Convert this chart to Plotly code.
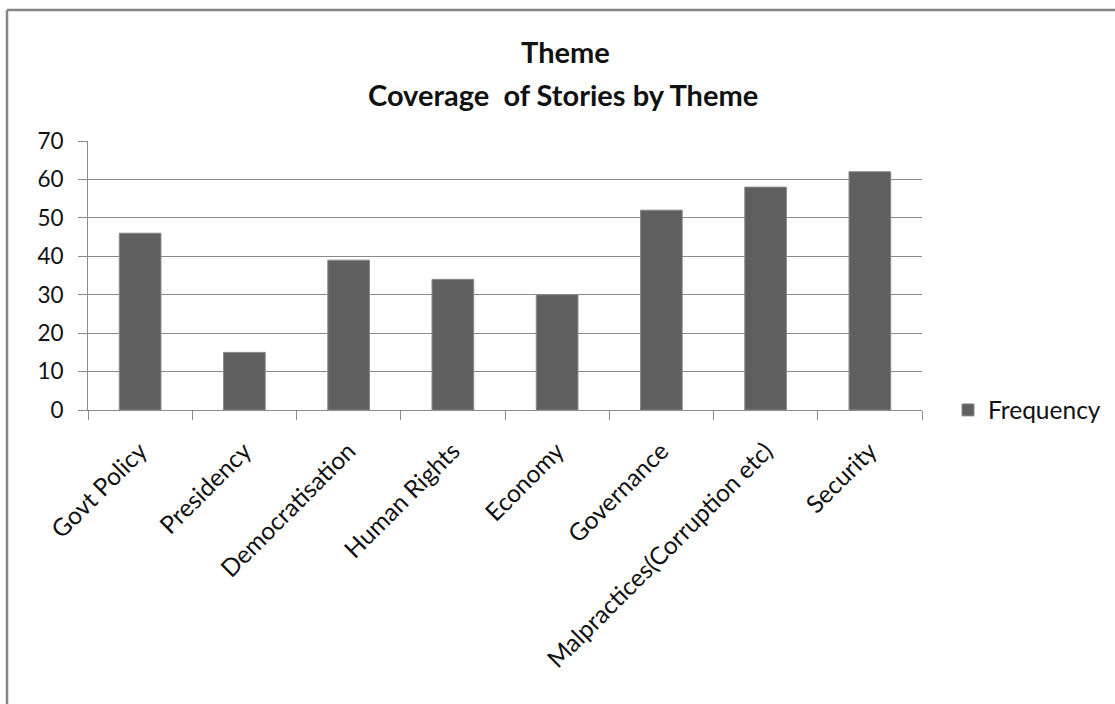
import plotly.graph_objects as go

categories = ["Govt Policy", "Presidency", "Democratisation", "Human Rights",
              "Economy", "Governance", "Malpractices(Corruption etc)", "Security"]
frequency = [46, 15, 39, 34, 30, 52, 58, 62]
series_name = "Frequency"
title_line1 = "Theme"
title_line2 = "Coverage\u00a0\u00a0of Stories by Theme"

W, H = 1115, 704
L, R, T, B = 88, 1115 - 922, 141, 704 - 410
pw, ph = W - L - R, H - T - B

def px_x(x):
    return (x - L) / pw

def px_y(y):
    return (H - B - y) / ph

FONT = "Lato"
fig = go.Figure()
fig.add_trace(go.Bar(
    x=categories, y=frequency, name=series_name,
    marker=dict(color="#5f5f5f", line=dict(color="#8a8a8a", width=1)),
    showlegend=True,
))

fig.update_layout(
    width=W, height=H,
    margin=dict(l=L, r=R, t=T, b=B, autoexpand=False),
    paper_bgcolor="white", plot_bgcolor="white",
    bargap=0.6,
    font=dict(family=FONT, size=22, color="#111111"),
    showlegend=True,
    legend=dict(x=px_x(948), y=px_y(410), xanchor="left", yanchor="middle",
                font=dict(size=24.5), itemwidth=30, tracegroupgap=0,
                bgcolor="rgba(0,0,0,0)"),
    xaxis=dict(
        type="category", tickangle=-45, tickson="boundaries",
        ticks="outside", ticklen=9, tickcolor="#8a8a8a", tickwidth=1,
        showline=True, linecolor="#8a8a8a", linewidth=1,
        showgrid=False, tickfont=dict(size=24.5), ticklabelstandoff=16,
    ),
    yaxis=dict(
        range=[0, 70], dtick=10, tick0=0,
        ticks="outside", ticklen=9, tickcolor="#8a8a8a", tickwidth=1,
        showline=True, linecolor="#8a8a8a", linewidth=1,
        showgrid=True, gridcolor="#8a8a8a", gridwidth=1,
        zeroline=False, tickfont=dict(size=22.5), ticklabelstandoff=10,
    ),
)

fig.add_annotation(text="<b>" + title_line1 + "</b>", xref="paper", yref="paper",
                   x=px_x(565), y=px_y(51), showarrow=False,
                   font=dict(size=29, family=FONT), xanchor="center", yanchor="middle")
fig.add_annotation(text="<b>" + title_line2 + "</b>", xref="paper", yref="paper",
                   x=px_x(563), y=px_y(94), showarrow=False,
                   font=dict(size=29, family=FONT), xanchor="center", yanchor="middle")

# outer chart frame (only top and left edges visible)
fig.add_shape(type="line", xref="paper", yref="paper",
              x0=px_x(7), x1=px_x(1200), y0=px_y(10), y1=px_y(10),
              line=dict(color="#858585", width=2.5))
fig.add_shape(type="line", xref="paper", yref="paper",
              x0=px_x(7), x1=px_x(7), y0=px_y(10), y1=px_y(800),
              line=dict(color="#858585", width=2.5))

fig.write_html("out.html")
